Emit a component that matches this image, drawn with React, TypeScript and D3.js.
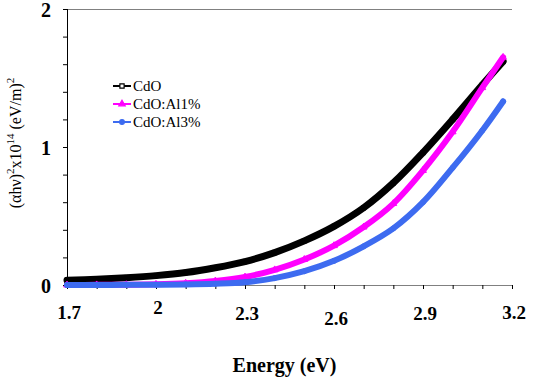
import * as d3 from 'd3';
import * as React from 'react';

// energy (eV) at which each curve was read
const energy = [1.7, 1.8, 1.9, 2.0, 2.1, 2.2, 2.3, 2.4, 2.5, 2.6, 2.7, 2.8, 2.9, 3.0, 3.1, 3.17];

// (alpha h nu)^2 x 10^14 (eV/m)^2
const cdo = [0.035, 0.042, 0.053, 0.068, 0.09, 0.125, 0.17, 0.235, 0.32, 0.425, 0.56, 0.74, 0.96, 1.2, 1.45, 1.62];
const cdoAl1 = [0.0, 0.001, 0.002, 0.005, 0.013, 0.029, 0.058, 0.11, 0.185, 0.285, 0.42, 0.59, 0.83, 1.11, 1.43, 1.65];
const cdoAl3 = [0.0, 0.0, 0.001, 0.002, 0.004, 0.009, 0.02, 0.05, 0.1, 0.175, 0.28, 0.41, 0.6, 0.85, 1.12, 1.33];

const seriesNames = ['CdO', 'CdO:Al1%', 'CdO:Al3%'];
const seriesValues = [cdo, cdoAl1, cdoAl3];
const seriesColors = ['#000000', '#ff00ff', '#3d6bf0'];
const seriesMarkers = [d3.symbolSquare, d3.symbolTriangle, d3.symbolCircle];

const xTicks = [1.7, 2.0, 2.3, 2.6, 2.9, 3.2];
const xLabelDy = [0, -5, 1, 6, 1, 0];
const yTicks = [0, 1, 2];

const W = 557;
const H = 382;
const margin = { top: 9, right: 45, bottom: 97, left: 67 };
const serif = 'Liberation Serif';

const width = W - margin.left - margin.right;
const height = H - margin.top - margin.bottom;

const x = d3.scaleLinear().domain([1.7, 3.2]).range([0, width]);
const y = d3.scaleLinear().domain([0, 2]).range([height, 0]);

const line = d3
  .line<number>()
  .x((d, i) => x(energy[i]))
  .y((d) => y(d))
  .curve(d3.curveCatmullRom);

const xMinor = d3.range(17, 33).map((d) => d / 10);
const yMinor = d3.range(0, 11).map((d) => d / 5);

const App = () => (
  <svg width={W} height={H} style={{ position: 'absolute', left: 0, top: 0, background: '#fff' }}>
    <g transform={`translate(${margin.left},${margin.top})`}>
      {/* top border */}
      <line x1={0} x2={width} y1={0.5} y2={0.5} stroke="#808080" />

      {/* x axis */}
      <line x1={0} x2={width} y1={height + 0.5} y2={height + 0.5} stroke="#808080" />
      {xMinor.map((t) => (
        <line key={t} x1={x(t) + 0.5} x2={x(t) + 0.5} y1={height} y2={height + 4} stroke="#000" />
      ))}
      {xTicks.map((t, i) => (
        <text
          key={t}
          x={x(t) + 2}
          y={height + 34 + xLabelDy[i]}
          textAnchor="middle"
          fontFamily={serif}
          fontWeight="bold"
          fontSize={19}
        >
          {t}
        </text>
      ))}

      {/* y axis */}
      <line x1={0.5} x2={0.5} y1={0} y2={height} stroke="#000" />
      {yMinor.map((t) => (
        <line key={t} x1={-4} x2={0} y1={y(t) + 0.5} y2={y(t) + 0.5} stroke="#000" />
      ))}
      {yTicks.map((t) => (
        <text key={t} x={-16} y={y(t) + 8} textAnchor="end" fontFamily={serif} fontWeight="bold" fontSize={20}>
          {t}
        </text>
      ))}

      {/* curves */}
      {seriesValues.map((vals, si) => (
        <g key={si}>
          <path
            d={line(vals) || ''}
            fill="none"
            stroke={seriesColors[si]}
            strokeWidth={si === 0 ? 7 : 6}
            strokeLinecap="round"
          />
          {vals.map((v, i) => (
            <path
              key={i}
              d={d3.symbol().type(seriesMarkers[si]).size(20)() || ''}
              transform={`translate(${x(energy[i])},${y(v)})`}
              fill="none"
              stroke={seriesColors[si]}
              strokeWidth={1}
            />
          ))}
        </g>
      ))}
    </g>

    {/* legend */}
    <g transform="translate(113,86)">
      {seriesNames.map((name, i) => (
        <g key={name} transform={`translate(0,${i * 18})`}>
          <line x1={0} x2={18} y1={0} y2={0} stroke={seriesColors[i]} strokeWidth={2} />
          <path
            d={d3.symbol().type(seriesMarkers[i]).size(18)() || ''}
            transform="translate(9,0)"
            fill={i === 0 ? '#fff' : seriesColors[i]}
            stroke={seriesColors[i]}
            strokeWidth={1.2}
          />
          <text x={20} y={5} fontFamily={serif} fontSize={15}>
            {name}
          </text>
        </g>
      ))}
    </g>

    {/* axis titles */}
    <text
      x={margin.left + width / 2 - 5}
      y={372}
      textAnchor="middle"
      fontFamily={serif}
      fontWeight="bold"
      fontSize={20}
    >
      Energy (eV)
    </text>
    <text transform="translate(21,143) rotate(-90)" textAnchor="middle" fontFamily={serif} fontSize={16}>
      <tspan>(αhν)</tspan>
      <tspan dy={-7} fontSize={11}>2</tspan>
      <tspan dy={7}>x10</tspan>
      <tspan dy={-7} fontSize={11}>14</tspan>
      <tspan dy={7}> (eV/m)</tspan>
      <tspan dy={-7} fontSize={11}>2</tspan>
    </text>
  </svg>
);

export default App;
